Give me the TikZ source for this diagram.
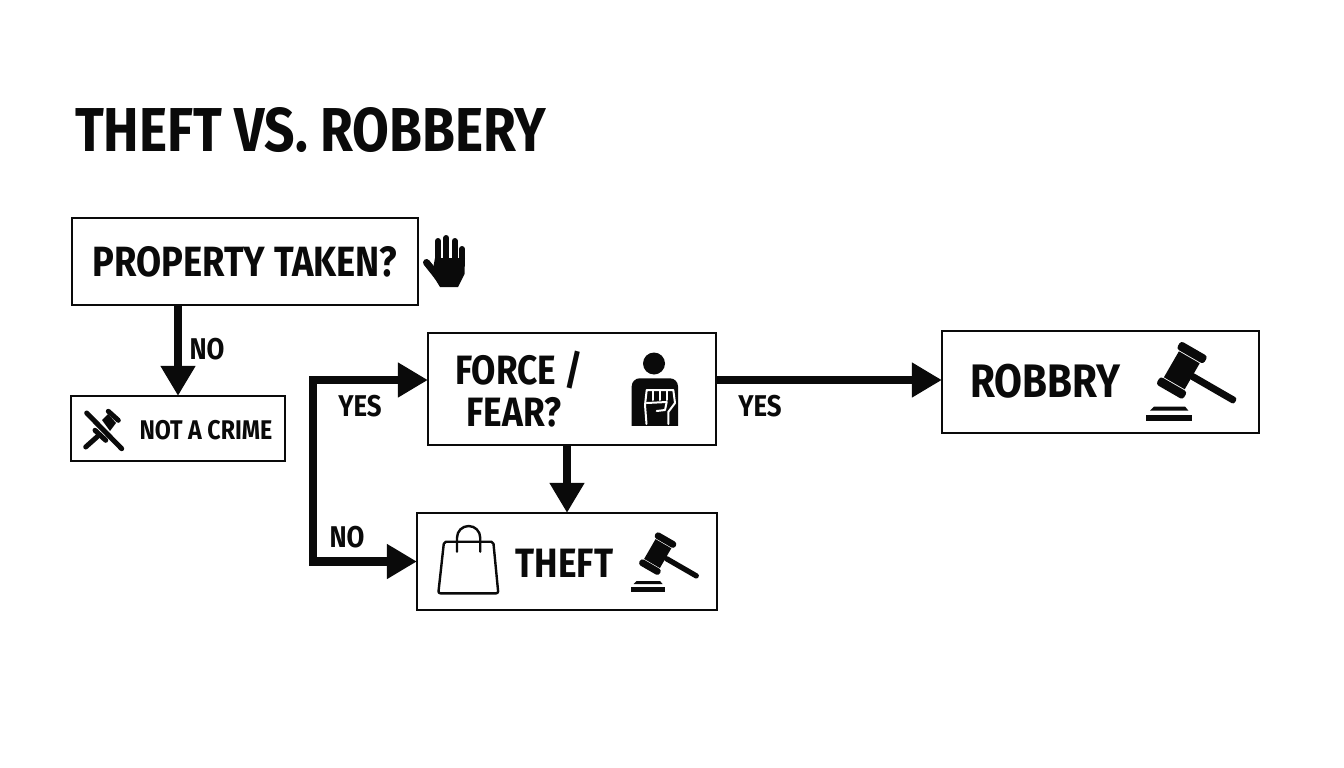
\documentclass[tikz,border=0pt]{standalone}
\usepackage{fontspec}
\newfontfamily\signfont[FakeStretch=0.86]{Fira Sans}
\usetikzlibrary{arrows.meta}
\definecolor{ink}{HTML}{0A0A0A}
\tikzset{
  box/.style={draw=ink, line width=2.2pt, fill=white, inner sep=0pt},
  flow/.style={draw=ink, line width=8.5pt, -{Triangle[length=30pt,width=33pt]}, shorten >=-1pt},
  sign/.style={text=ink, inner sep=0pt, font=\signfont\bfseries\fontsize{#1}{#1}\selectfont},
  sign/.default=30,
  iconline/.style={draw=ink, line cap=round, line width=5pt},
  cutline/.style={draw=white, line width=2pt, line join=round, line cap=round},
  bagline/.style={draw=ink, line width=2.4pt, line join=round, line cap=round},
  pics/gavel/.style={code={
    % base
    \fill[ink] (4pt,-66pt) -- (8pt,-62pt) -- (39pt,-62pt) -- (42.3pt,-66pt) -- cycle;
    \fill[ink] (0,-70pt) rectangle (45.7pt,-76pt);
    % head and handle
    \begin{scope}[shift={(35.8pt,-25.8pt)}, rotate=-30]
      \fill[ink] (-12pt,-15pt) rectangle (12pt,15pt);
      \fill[ink, rounded corners=3pt] (-15.5pt,16pt) rectangle (15.5pt,25pt);
      \fill[ink, rounded corners=3pt] (-15.5pt,-25pt) rectangle (15.5pt,-16pt);
      \fill[ink, rounded corners=2.5pt] (10pt,-3.5pt) rectangle (62pt,3.5pt);
    \end{scope}
  }},
}
\begin{document}
\begin{tikzpicture}
\useasboundingbox (0,0) rectangle (1344pt,-768pt);
\node[sign=62, anchor=west] (title) at (75pt,-130pt) {THEFT VS. ROBBERY};
% boxes
\node[box, sign=42.3, minimum width=346pt, minimum height=87pt] (property) at (245pt,-261.5pt) {PROPERTY TAKEN?};
\node[box, minimum width=214pt, minimum height=65pt] (crime) at (178pt,-428.5pt) {};
\node[box, minimum width=288pt, minimum height=112pt] (force) at (572pt,-389pt) {};
\node[box, minimum width=300pt, minimum height=97pt] (theft) at (567pt,-561.5pt) {};
\node[box, minimum width=317pt, minimum height=102pt] (robbry) at (1100.5pt,-382pt) {};
% box texts
\node[sign=27] (crimetext) at (206pt,-430pt) {NOT A CRIME};
\node[sign=41] (forcetext) at (519pt,-370pt) {FORCE /};
\node[sign=41] (feartext) at (514pt,-412pt) {FEAR?};
\node[sign=41] (thefttext) at (564.5pt,-563pt) {THEFT};
\node[sign=47] (robbrytext) at (1045.5pt,-381.5pt) {ROBBRY};
% connectors
\coordinate (split) at (313pt,-470pt);
\draw[flow] (crime |- property.south) -- (crime.north);
\draw[flow] (theft.north |- force.south) -- (theft.north);
\draw[flow] ([yshift=2pt]force.east |- robbry.west) -- ([yshift=2pt]robbry.west);
\draw[flow] (split) |- ([yshift=9pt]force.west);
\draw[flow] (split) |- (theft.west);
% connector labels
\node[sign] (nocrime) at (207pt,-349pt) {NO};
\node[sign] (yesforce) at (360pt,-406pt) {YES};
\node[sign] (notheft) at (347pt,-537pt) {NO};
\node[sign] (yesrobbry) at (760pt,-406pt) {YES};
% hand
\foreach \x/\y in {438/241, 446.3/238, 454.7/241, 462/249} {
  \draw[ink, line width=6pt, line cap=round] (\x pt,-\y pt) -- (\x pt,-265pt);
}
\fill[ink] (435pt,-258pt) -- (465pt,-258pt) -- (464.5pt,-274pt) -- (458pt,-287pt) -- (440pt,-287pt) -- (432pt,-274pt) -- cycle;
\draw[ink, line width=7pt, line cap=round] (426.5pt,-262.5pt) -- (438pt,-277pt);
% person with fist
\fill[ink] (654pt,-363.5pt) circle (11pt);
\fill[ink, rounded corners=8pt] (631.7pt,-440pt) -- (631.7pt,-378.3pt) -- (678pt,-378.3pt) -- (678pt,-440pt) -- cycle;
\fill[white] (628pt,-426pt) rectangle (682pt,-442pt);
\draw[cutline] (646.5pt,-424pt) -- (645pt,-405pt) -- (646.7pt,-390pt) -- (673.3pt,-390pt) -- (675pt,-403pt) -- (668.3pt,-412pt) -- (668.3pt,-424pt);
\foreach \x in {653.3, 660, 666.7} {
  \draw[cutline] (\x pt,-390pt) -- (\x pt,-400pt);
}
\draw[cutline] (646.7pt,-403pt) -- (666.7pt,-402pt) -- (665pt,-410pt) -- (656.7pt,-411pt);
% bag
\draw[bagline, rounded corners=2pt] (444pt,-541.7pt) -- (493.3pt,-541.7pt) -- (498.3pt,-593.3pt) -- (438.3pt,-593.3pt) -- cycle;
\draw[bagline] (457pt,-551.7pt) -- (457pt,-537.6pt) arc (180:0:11.6pt) -- (480.2pt,-551.7pt);
% gavels
\pic at (1146pt,-344.5pt) {gavel};
\pic[scale=.76] at (630.5pt,-534pt) {gavel};
% crossed gavel
\draw[iconline] (85.7pt,-447pt) -- (97.7pt,-436.3pt);
\draw[iconline] (95pt,-430.3pt) -- (105.7pt,-440.3pt);
\draw[iconline] (108.3pt,-411.3pt) -- (118.3pt,-420.3pt);
\fill[ink] (102pt,-420pt) -- (108pt,-414pt) -- (116pt,-423pt) -- (110pt,-431pt) -- cycle;
\draw[iconline] (86.7pt,-413pt) -- (121.7pt,-448.7pt);
\end{tikzpicture}
\end{document}
